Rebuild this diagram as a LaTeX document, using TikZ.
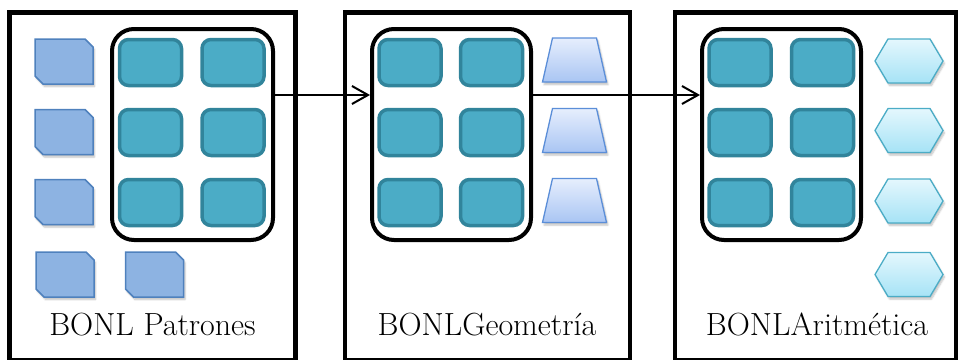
\documentclass[tikz,border=0pt]{standalone}
\usetikzlibrary{arrows.meta,shadows.blur}

\definecolor{tealfill}{HTML}{4BACC6}
\definecolor{tealline}{HTML}{31849B}
\definecolor{snipfill}{HTML}{8DB3E2}
\definecolor{snipline}{HTML}{4F81BD}
\definecolor{trapline}{HTML}{5B8ED8}
\definecolor{traptop}{HTML}{E6EEFD}
\definecolor{trapbot}{HTML}{A9C5F3}
\definecolor{hexline}{HTML}{4BACC6}
\definecolor{hextop}{HTML}{E4F7FD}
\definecolor{hexbot}{HTML}{A6E3F6}

\tikzset{
  frame/.style={draw, line width=4.5pt, inner sep=0pt, minimum height=347.5pt},
  group/.style={draw, line width=4pt, rounded corners=22pt, inner sep=0pt,
    minimum width=159pt, minimum height=211pt},
  tile/.style={draw=tealline, fill=tealfill, line width=3.5pt, rounded corners=9pt,
    inner sep=0pt, minimum width=62pt, minimum height=46pt},
  softshadow/.style={blur shadow={shadow xshift=1.5pt, shadow yshift=-2.5pt,
    shadow blur steps=6, shadow opacity=25}},
  snipstyle/.style={draw=snipline, fill=snipfill, line width=1.5pt, softshadow},
  trapstyle/.style={draw=trapline, line width=1.3pt, top color=traptop,
    bottom color=trapbot, softshadow},
  hexstyle/.style={draw=hexline, line width=1.3pt, top color=hextop,
    bottom color=hexbot, softshadow},
  snipshape/.pic={
    \path[snipstyle] (-29,-22.5) -- (21,-22.5) -- (29,-14.5) -- (29,22.5)
      -- (-21,22.5) -- (-29,14.5) -- cycle;
    \coordinate (-c) at (0,0);
  },
  trapshape/.pic={
    \path[trapstyle] (-32,22) -- (-22,-22) -- (22,-22) -- (32,22) -- cycle;
    \coordinate (-c) at (0,0);
  },
  hexshape/.pic={
    \path[hexstyle] (-34,0) -- (-21,-22) -- (21,-22) -- (34,0) -- (21,22) -- (-21,22) -- cycle;
    \coordinate (-c) at (0,0);
  },
  caption/.style={anchor=base, inner sep=0pt, font=\fontsize{32}{36}\selectfont},
  conn/.style={line width=2pt, -{Straight Barb[length=16pt, width=18pt, line width=2pt]}}
}

\begin{document}
\begin{tikzpicture}[x=1pt, y=-1pt]
\clip (0,0) rectangle (960,359);
\useasboundingbox (0,0) rectangle (960,359);

% outer frames of the three ontologies
\node[frame, minimum width=286pt] (f1) at (152.25,186.25) {};
\node[frame, minimum width=285pt] (f2) at (487.5,186.25) {};
\node[frame, minimum width=281pt] (f3) at (815.5,186.25) {};

% shared core groups
\node[group, minimum width=161pt] (g1) at (192.5,134.5) {};
\node[group] (g2) at (451.5,134.5) {};
\node[group] (g3) at (781.5,134.5) {};

% core tiles
\foreach \g/\xa/\xb in {1/150.5/233, 2/410/491.5, 3/740/822.5}{
  \foreach \r/\yy in {1/62.5, 2/132.5, 3/202.5}{
    \node[tile] (t\g-\r a) at (\xa,\yy) {};
    \node[tile] (t\g-\r b) at (\xb,\yy) {};
  }
}

% specific concepts: patterns
\pic (p1) at (64,61.5) {snipshape};
\pic (p2) at (64,132) {snipshape};
\pic (p3) at (64,202) {snipshape};
\pic (p4) at (65,274.5) {snipshape};
\pic (p5) at (154.5,274.5) {snipshape};

% specific concepts: geometry
\pic (q1) at (574.5,60) {trapshape};
\pic (q2) at (574.5,130.5) {trapshape};
\pic (q3) at (574.5,200.5) {trapshape};

% specific concepts: arithmetic
\pic (h1) at (909,61) {hexshape};
\pic (h2) at (909,130.5) {hexshape};
\pic (h3) at (909,201) {hexshape};
\pic (h4) at (909,274.5) {hexshape};

% captions
\node[caption] (c1) at (152.5,335) {BONL Patrones};
\node[caption] (c2) at (487,335) {BONLGeometría};
\node[caption] (c3) at (817,335) {BONLAritmética};

% connectors between the core groups
\coordinate (ay) at (0,95);
\draw[conn] (g1.east |- ay) -- (g2.west |- ay);
\draw[conn] (g2.east |- ay) -- (g3.west |- ay);
\end{tikzpicture}
\end{document}
